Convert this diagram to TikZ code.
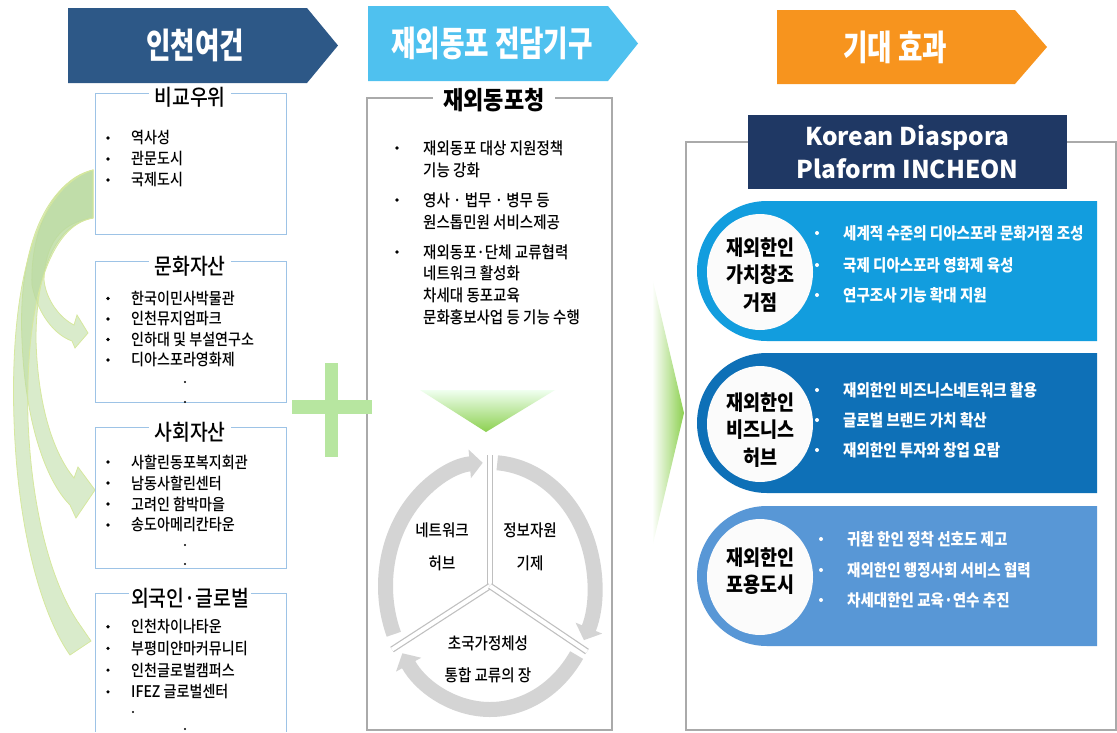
\documentclass[tikz,border=0pt]{standalone}
\usepackage{fontspec}
\setmainfont[FakeStretch=0.88]{Noto Sans CJK KR}
\newfontfamily\medfont[FakeStretch=0.88]{Noto Sans CJK KR Medium}
\newfontfamily\hdrfont[FakeStretch=0.76]{Noto Sans CJK KR}
\newfontfamily\latinfont{Noto Sans CJK KR}
\usepackage{tikz}
\usepackage{xcolor}
\usetikzlibrary{math,calc,arrows.meta}

\definecolor{hdrnavy}{RGB}{45,88,135}
\definecolor{hdrsky}{RGB}{79,193,239}
\definecolor{hdrorange}{RGB}{247,148,30}
\definecolor{titlenavy}{RGB}{31,56,100}
\definecolor{boxblue}{RGB}{157,195,230}
\definecolor{boxgray}{RGB}{170,170,170}
\definecolor{ringgray}{RGB}{212,212,212}
\definecolor{leafgreen}{RGB}{186,218,160}
\definecolor{leafedge}{RGB}{214,232,158}
\definecolor{plusgreen}{RGB}{183,230,160}
\definecolor{tipgreen}{RGB}{140,208,80}
\definecolor{bandA}{RGB}{18,157,222}
\definecolor{bandB}{RGB}{14,112,183}
\definecolor{bandC}{RGB}{88,151,214}

\tikzset{
  hdr/.style={text=white, font=\hdrfont\fontsize{35}{37}\selectfont\bfseries},
  asset/.style={draw=boxblue, line width=0.9pt, fill=white},
  assettitle/.style={fill=white, inner xsep=5pt, inner ysep=1pt, font=\medfont\fontsize{22}{24}\selectfont},
  item/.style={anchor=west, inner sep=0pt, font=\medfont\fontsize{16}{18}\selectfont},
  okaitem/.style={anchor=west, inner sep=0pt, font=\medfont\fontsize{16.5}{18}\selectfont},
  frame/.style={draw=boxgray, line width=1.2pt, fill=white},
  leaf/.style={fill=leafgreen, fill opacity=0.55, draw=leafedge, line width=0.8pt},
  ring/.style={draw=ringgray, line width=15pt, -{Triangle[length=13pt,width=28pt]}},
  divider/.style={draw=ringgray!75!gray, line width=1.2pt, double=white, double distance=4pt},
  cyc/.style={font=\medfont\fontsize{16.5}{18}\selectfont},
  hub/.style={align=center, font=\fontsize{21}{27.5}\selectfont\bfseries},
  effect/.style={anchor=west, inner sep=0pt, text=white, font=\fontsize{16.5}{18}\selectfont\bfseries}
}

\begin{document}
\begin{tikzpicture}[x=1pt,y=1pt]

\tikzmath{
\rx = 104.5;
\ry = 123.5;
}

\useasboundingbox (0,0) rectangle (1117,-732);

\fill[hdrnavy] (68,-8) -- (307,-8) -- (338,-45.5) -- (307,-83) -- (68,-83) -- cycle;
\node[hdr] (cond) at (195,-45) {인천여건};
\fill[hdrsky] (368,-6) -- (608,-6) -- (638,-43.5) -- (608,-81) -- (368,-81) -- cycle;
\node[hdr] (org) at (492,-43) {재외동포 전담기구};
\fill[hdrorange] (777,-10) -- (1015,-10) -- (1047,-47) -- (1015,-84) -- (777,-84) -- cycle;
\node[hdr] (eff) at (895,-47) {기대 효과};

\path[leaf] (93,-170) .. controls (55,-178) and (30,-230) .. (32,-285) .. controls (38,-315) and (55,-335) .. (72,-341)
  -- (75,-348) -- (88,-333) -- (77,-315) -- (74,-325)
  .. controls (60,-318) and (46,-300) .. (44,-280) .. controls (45,-245) and (60,-222) .. (93,-218) -- cycle;
\path[leaf] (93,-170) .. controls (40,-185) and (18,-260) .. (22,-340) .. controls (25,-420) and (45,-480) .. (70,-505)
  -- (76,-518) -- (95,-490) -- (78,-467) -- (74,-478)
  .. controls (55,-455) and (38,-410) .. (36,-340) .. controls (36,-270) and (55,-225) .. (93,-218) -- cycle;
\path[leaf] (93,-170) .. controls (30,-190) and (10,-300) .. (14,-420) .. controls (18,-540) and (45,-620) .. (70,-655)
  -- (91,-641) -- (80,-625)
  .. controls (55,-590) and (32,-520) .. (28,-420) .. controls (25,-300) and (50,-225) .. (93,-218) -- cycle;

\draw[asset] (95,-93) rectangle (286,-234);
\node[assettitle] (cmp) at (190,-97) {비교우위};
\foreach \txt [count=\i] in {역사성,관문도시,국제도시}{
  \fill (108,-117-21*\i) circle (1.8pt);
  \node[item] (cmp\i) at (131,-117-21*\i) {\txt};
}

\draw[asset] (95,-261) rectangle (286,-402);
\node[assettitle] (cul) at (190,-266) {문화자산};
\foreach \txt [count=\i] in {한국이민사박물관,인천뮤지엄파크,인하대 및 부설연구소,디아스포라영화제}{
  \fill (108,-278-20.5*\i) circle (1.8pt);
  \node[item] (cul\i) at (131,-278-20.5*\i) {\txt};
}
\fill (185,-382) circle (1.1pt);
\fill (185,-402) circle (1.1pt);

\draw[asset] (95,-427) rectangle (286,-568);
\node[assettitle] (soc) at (190,-432) {사회자산};
\foreach \txt [count=\i] in {사할린동포복지회관,남동사할린센터,고려인 함박마을,송도아메리칸타운}{
  \fill (108,-441-21*\i) circle (1.8pt);
  \node[item] (soc\i) at (131,-441-21*\i) {\txt};
}
\fill (185,-545) circle (1.1pt);
\fill (185,-564) circle (1.1pt);

\draw[asset] (95,-732) -- (95,-593) -- (286,-593) -- (286,-732);
\node[assettitle, inner xsep=2pt] (glb) at (190,-598) {외국인·글로벌};
\foreach \txt [count=\i] in {인천차이나타운,부평미얀마커뮤니티,인천글로벌캠퍼스,IFEZ 글로벌센터}{
  \fill (108,-605-21.7*\i) circle (1.8pt);
  \node[item] (glb\i) at (131,-605-21.7*\i) {\txt};
}
\fill (133,-712) circle (1.1pt);
\fill (185,-729) circle (1.1pt);

\draw[frame] (367,-98) rectangle (612,-730);
\node[fill=white, inner xsep=10pt, font=\fontsize{25}{27}\selectfont\bfseries] (oka) at (494,-100) {재외동포청};
\foreach \y in {148,200,252}
  \fill (397,-\y) circle (1.8pt);
\foreach \y/\txt [count=\i] in {148/재외동포 대상 지원정책, 170/기능 강화, 200/영사 · 법무 · 병무 등, 222/원스톱민원 서비스제공,
  252/재외동포·단체 교류협력, 273/네트워크 활성화, 295/차세대 동포교육, 317/문화홍보사업 등 기능 수행}
  \node[okaitem] (oka\i) at (423,-\y) {\txt};

\fill[plusgreen] (325,-363) rectangle (338,-457);
\fill[plusgreen] (292,-400) rectangle (372,-414);

\shade[top color=green!6, bottom color=tipgreen] (420,-390) -- (555,-390) -- (486,-432) -- cycle;

\coordinate (hub) at (490,-586);
\draw[ring] ($(hub)+(203:\rx pt and \ry pt)$) arc[start angle=203, end angle=94, x radius=\rx pt, y radius=\ry pt];
\draw[ring] ($(hub)+(86:\rx pt and \ry pt)$) arc[start angle=86, end angle=-26, x radius=\rx pt, y radius=\ry pt];
\draw[ring] ($(hub)+(-34:\rx pt and \ry pt)$) arc[start angle=-34, end angle=-147, x radius=\rx pt, y radius=\ry pt];
\coordinate (divN) at ($(hub)+(90:112pt and 131pt)$);
\coordinate (divW) at ($(hub)+(209:112pt and 131pt)$);
\coordinate (divE) at ($(hub)+(-30:112pt and 131pt)$);
\draw[divider] (hub) -- (divN);
\draw[divider] (hub) -- (divW);
\draw[divider] (hub) -- (divE);
\node[cyc] (net1) at (442,-530) {네트워크};
\node[cyc] (net2) at (442,-563) {허브};
\node[cyc] (inf1) at (530,-530) {정보자원};
\node[cyc] (inf2) at (530,-563) {기제};
\node[cyc] (trn1) at (488,-643) {초국가정체성};
\node[cyc] (trn2) at (488,-675) {통합 교류의 장};

\shade[left color=white, right color=tipgreen] (652,-277) -- (684,-413) -- (652,-548) -- cycle;

\draw[frame] (686,-142) rectangle (1116,-730);
\node[fill=titlenavy, minimum width=319pt, minimum height=74pt, text=white, align=center,
  font=\latinfont\fontsize{24.5}{33}\selectfont\bfseries] (kdp) at (907.5,-152) {Korean Diaspora\\Plaform INCHEON};

\foreach \top/\col in {201/bandA, 353/bandB, 506/bandC}{
  \fill[\col] (1097,-\top) -- (767,-\top) arc[start angle=90, end angle=270, radius=70pt] -- (1097,-\top-140) -- cycle;
  \fill[white!97!gray] (760,-\top-71) ellipse[x radius=53pt, y radius=58pt];
}

\node[hub] (hubA) at (760,-275) {재외한인\\가치창조\\거점};
\node[hub] (hubB) at (760,-430) {재외한인\\비즈니스\\허브};
\node[hub] (hubC) at (760,-571) {재외한인\\포용도시};

\foreach \y/\txt [count=\i] in {233/세계적 수준의 디아스포라 문화거점 조성, 265/국제 디아스포라 영화제 육성, 295/연구조사 기능 확대 지원}{
  \fill[white] (817,-\y) circle (2pt);
  \node[effect] (fxA\i) at (843,-\y) {\txt};
}
\foreach \y/\txt [count=\i] in {390/재외한인 비즈니스네트워크 활용, 420/글로벌 브랜드 가치 확산, 450/재외한인 투자와 창업 요람}{
  \fill[white] (817,-\y) circle (2pt);
  \node[effect] (fxB\i) at (843,-\y) {\txt};
}
\foreach \y/\txt [count=\i] in {539/귀환 한인 정착 선호도 제고, 570/재외한인 행정사회 서비스 협력, 600/차세대한인 교육·연수 추진}{
  \fill[white] (821,-\y) circle (2pt);
  \node[effect] (fxC\i) at (847,-\y) {\txt};
}

\end{tikzpicture}
\end{document}
